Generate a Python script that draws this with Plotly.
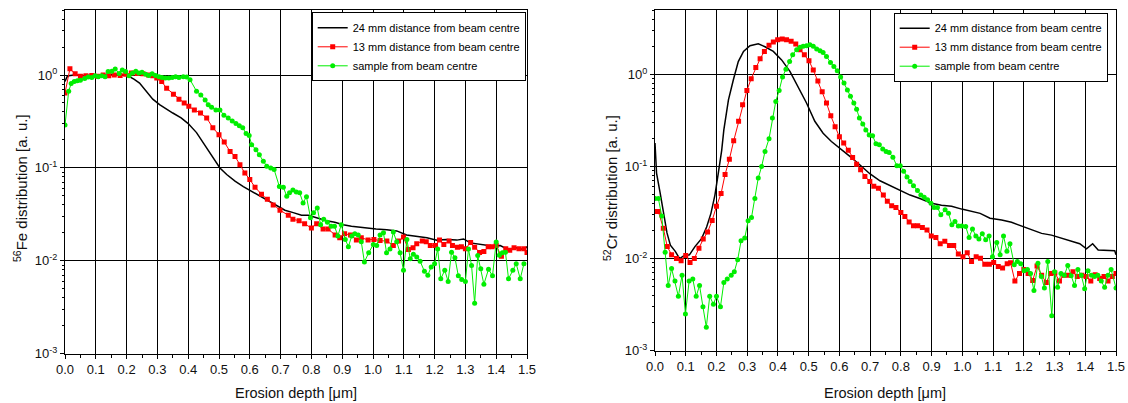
import plotly.graph_objects as go

# ---------------- data ----------------
# Left panel: 56Fe distribution vs erosion depth [um]
fe_24mm = [(0.0, 0.85), (0.006, 0.95), (0.012, 0.98), (0.03, 1.0), (0.06, 0.99), (0.1, 1.0),
           (0.14, 1.01), (0.17, 1.02), (0.2, 1.0), (0.225, 0.9), (0.242, 0.82), (0.263, 0.67),
           (0.285, 0.55), (0.307, 0.48), (0.328, 0.43), (0.35, 0.39), (0.377, 0.345), (0.4, 0.30),
           (0.427, 0.24), (0.449, 0.186), (0.476, 0.139), (0.503, 0.1), (0.525, 0.085),
           (0.552, 0.072), (0.579, 0.063), (0.606, 0.056), (0.633, 0.049), (0.66, 0.044),
           (0.687, 0.039), (0.714, 0.035), (0.741, 0.033), (0.768, 0.031), (0.79, 0.031),
           (0.817, 0.029), (0.849, 0.027), (0.876, 0.026), (0.903, 0.0245), (0.93, 0.0236),
           (0.957, 0.023), (0.979, 0.0226), (1.01, 0.022), (1.045, 0.0216), (1.077, 0.021),
           (1.109, 0.019), (1.142, 0.0185), (1.175, 0.0177), (1.207, 0.0167), (1.24, 0.017),
           (1.272, 0.0167), (1.294, 0.0172), (1.316, 0.0156), (1.348, 0.015), (1.38, 0.0145),
           (1.413, 0.0146), (1.44, 0.0132), (1.467, 0.0138), (1.489, 0.0132), (1.5, 0.0142)]

fe_13mm = [(0.0, 0.64), (0.016, 1.17), (0.033, 1.03), (0.05, 0.97), (0.068, 0.98), (0.087, 0.99),
           (0.105, 0.97), (0.124, 1.0), (0.142, 0.98), (0.16, 1.0), (0.179, 0.99), (0.197, 1.02),
           (0.216, 1.05), (0.234, 1.04), (0.253, 1.03), (0.271, 1.0), (0.285, 0.98), (0.298, 0.93),
           (0.314, 0.85), (0.33, 0.72), (0.352, 0.62), (0.37, 0.55), (0.387, 0.50), (0.402, 0.46),
           (0.42, 0.42), (0.44, 0.39), (0.46, 0.345), (0.48, 0.27), (0.5, 0.228), (0.517, 0.19),
           (0.536, 0.15), (0.552, 0.133), (0.568, 0.108), (0.584, 0.088), (0.6, 0.075),
           (0.617, 0.062), (0.638, 0.052), (0.657, 0.046), (0.676, 0.040), (0.698, 0.035),
           (0.725, 0.031), (0.74, 0.028), (0.76, 0.027), (0.778, 0.025), (0.8, 0.0226),
           (0.817, 0.025), (0.838, 0.022), (0.854, 0.022), (0.877, 0.019), (0.892, 0.0177),
           (0.908, 0.0195), (0.927, 0.019), (0.946, 0.0168), (0.962, 0.0177), (0.984, 0.0168),
           (1.003, 0.017), (1.023, 0.0165), (1.045, 0.0163), (1.066, 0.0146), (1.083, 0.0163),
           (1.099, 0.018), (1.115, 0.0132), (1.13, 0.0138), (1.142, 0.0153), (1.16, 0.0163),
           (1.173, 0.016), (1.186, 0.0146), (1.203, 0.0146), (1.216, 0.0168), (1.23, 0.015),
           (1.247, 0.0163), (1.258, 0.0146), (1.274, 0.014), (1.287, 0.0142), (1.3, 0.0135),
           (1.317, 0.0157), (1.33, 0.014), (1.346, 0.0123), (1.36, 0.0126), (1.374, 0.0142),
           (1.387, 0.0142), (1.4, 0.0146), (1.417, 0.0112), (1.431, 0.0135), (1.444, 0.013),
           (1.458, 0.0138), (1.474, 0.0135), (1.49, 0.0135), (1.5, 0.0123)]

fe_centre = [(0.0, 0.29), (0.012, 0.67), (0.02, 0.81), (0.03, 0.85), (0.04, 0.87), (0.05, 0.88),
             (0.064, 0.92), (0.075, 0.95), (0.087, 0.94), (0.098, 0.98), (0.108, 0.96),
             (0.119, 0.98), (0.13, 0.96), (0.14, 1.09), (0.152, 1.10), (0.163, 1.16),
             (0.176, 1.04), (0.186, 1.13), (0.197, 1.09), (0.208, 0.98), (0.219, 1.05),
             (0.23, 1.10), (0.24, 1.05), (0.25, 1.07), (0.262, 1.02), (0.272, 0.99), (0.283, 1.03),
             (0.294, 0.99), (0.305, 0.96), (0.315, 0.94), (0.326, 0.93), (0.337, 0.93),
             (0.348, 0.94), (0.359, 0.96), (0.37, 0.94), (0.384, 0.96), (0.395, 0.95),
             (0.406, 0.89), (0.427, 0.67), (0.441, 0.61), (0.455, 0.54), (0.465, 0.48),
             (0.476, 0.45), (0.49, 0.42), (0.503, 0.42), (0.516, 0.37), (0.53, 0.345),
             (0.543, 0.32), (0.555, 0.30), (0.566, 0.285), (0.577, 0.27), (0.588, 0.234),
             (0.598, 0.223), (0.606, 0.178), (0.62, 0.157), (0.631, 0.139), (0.644, 0.118),
             (0.655, 0.104), (0.668, 0.1), (0.679, 0.096), (0.696, 0.063), (0.709, 0.062),
             (0.72, 0.0495), (0.729, 0.054), (0.74, 0.058), (0.751, 0.055), (0.762, 0.054),
             (0.773, 0.042), (0.784, 0.049), (0.797, 0.029), (0.807, 0.033), (0.819, 0.037),
             (0.83, 0.0245), (0.84, 0.028), (0.852, 0.026), (0.864, 0.0236), (0.875, 0.0236),
             (0.886, 0.0185), (0.897, 0.0245), (0.91, 0.017), (0.92, 0.0142), (0.931, 0.0185),
             (0.941, 0.0195), (0.952, 0.019), (0.962, 0.016), (0.972, 0.0097), (0.986, 0.0122),
             (1.001, 0.015), (1.012, 0.0146), (1.023, 0.019), (1.034, 0.020), (1.044, 0.0122),
             (1.055, 0.0134), (1.066, 0.0204), (1.077, 0.016), (1.088, 0.0122), (1.099, 0.0079),
             (1.11, 0.017), (1.121, 0.0105), (1.131, 0.0118), (1.142, 0.011), (1.153, 0.0099),
             (1.167, 0.0077), (1.178, 0.0070), (1.189, 0.0086), (1.2, 0.0093), (1.21, 0.0134),
             (1.22, 0.0064), (1.233, 0.0079), (1.244, 0.006), (1.255, 0.0124), (1.266, 0.0108),
             (1.277, 0.0069), (1.288, 0.0063), (1.3, 0.006), (1.31, 0.0134), (1.32, 0.0089),
             (1.33, 0.0035), (1.34, 0.0114), (1.35, 0.0082), (1.36, 0.0056), (1.375, 0.0081),
             (1.388, 0.0069), (1.4, 0.0159), (1.41, 0.0115), (1.42, 0.0122), (1.43, 0.0124),
             (1.44, 0.0064), (1.454, 0.0079), (1.465, 0.0093), (1.478, 0.0064), (1.49, 0.0093)]

# Right panel: 52Cr distribution vs erosion depth [um]
cr_24mm = [(0.0, 0.18), (0.005, 0.085), (0.017, 0.051), (0.028, 0.031), (0.039, 0.019),
           (0.05, 0.014), (0.066, 0.012), (0.08, 0.01), (0.093, 0.0107), (0.112, 0.011),
           (0.13, 0.0135), (0.152, 0.0166), (0.168, 0.022), (0.182, 0.031), (0.195, 0.049),
           (0.206, 0.085), (0.217, 0.15), (0.224, 0.25), (0.232, 0.38), (0.239, 0.53),
           (0.255, 0.876), (0.271, 1.38), (0.288, 1.78), (0.309, 2.05), (0.336, 2.15),
           (0.358, 2.0), (0.385, 1.78), (0.412, 1.44), (0.439, 1.08), (0.466, 0.74),
           (0.493, 0.49), (0.52, 0.31), (0.547, 0.23), (0.574, 0.187), (0.602, 0.158),
           (0.635, 0.128), (0.667, 0.104), (0.7, 0.083), (0.732, 0.07), (0.765, 0.062),
           (0.797, 0.056), (0.83, 0.049), (0.862, 0.045), (0.9, 0.040), (0.932, 0.038),
           (0.965, 0.037), (0.998, 0.0345), (1.025, 0.033), (1.058, 0.031), (1.09, 0.0275),
           (1.128, 0.0263), (1.16, 0.0248), (1.198, 0.0223), (1.23, 0.0204), (1.258, 0.0188),
           (1.29, 0.018), (1.323, 0.0166), (1.355, 0.0153), (1.382, 0.0145), (1.404, 0.0128),
           (1.424, 0.0145), (1.442, 0.0124), (1.469, 0.0122), (1.496, 0.0122), (1.5, 0.011)]

cr_13mm = [(0.0, 0.0325), (0.011, 0.0325), (0.027, 0.0214), (0.04, 0.0135), (0.054, 0.011),
           (0.07, 0.01), (0.085, 0.0095), (0.1, 0.0108), (0.114, 0.0091), (0.128, 0.01),
           (0.143, 0.013), (0.157, 0.0163), (0.171, 0.0194), (0.186, 0.026), (0.2, 0.037),
           (0.215, 0.051), (0.228, 0.082), (0.242, 0.12), (0.256, 0.19), (0.272, 0.31),
           (0.285, 0.47), (0.299, 0.67), (0.313, 0.9), (0.328, 1.19), (0.342, 1.48),
           (0.356, 1.78), (0.371, 2.07), (0.385, 2.25), (0.399, 2.38), (0.414, 2.42),
           (0.428, 2.38), (0.443, 2.29), (0.458, 2.14), (0.472, 1.86), (0.486, 1.64),
           (0.501, 1.41), (0.515, 1.12), (0.53, 0.85), (0.544, 0.65), (0.558, 0.49),
           (0.572, 0.355), (0.586, 0.27), (0.6, 0.21), (0.614, 0.18), (0.629, 0.15),
           (0.643, 0.125), (0.656, 0.106), (0.669, 0.092), (0.683, 0.078), (0.699, 0.069),
           (0.712, 0.061), (0.727, 0.058), (0.743, 0.049), (0.756, 0.042), (0.77, 0.0375),
           (0.784, 0.036), (0.8, 0.0316), (0.813, 0.0287), (0.827, 0.025), (0.841, 0.0227),
           (0.855, 0.0227), (0.87, 0.0218), (0.885, 0.0205), (0.899, 0.0176), (0.914, 0.017),
           (0.928, 0.0145), (0.943, 0.0154), (0.958, 0.0139), (0.972, 0.0139), (0.987, 0.0112),
           (1.002, 0.0105), (1.016, 0.0116), (1.03, 0.0093), (1.045, 0.0105), (1.059, 0.0101),
           (1.073, 0.0087), (1.088, 0.0087), (1.102, 0.0091), (1.117, 0.0082), (1.131, 0.0079),
           (1.146, 0.0088), (1.157, 0.009), (1.171, 0.0057), (1.186, 0.0069), (1.2, 0.0076),
           (1.214, 0.0069), (1.229, 0.0058), (1.243, 0.0083), (1.258, 0.0066), (1.273, 0.0055),
           (1.287, 0.0069), (1.301, 0.007), (1.316, 0.0057), (1.33, 0.0066), (1.345, 0.0066),
           (1.36, 0.0072), (1.374, 0.0064), (1.389, 0.0066), (1.403, 0.0064), (1.418, 0.0057),
           (1.432, 0.0067), (1.447, 0.0061), (1.461, 0.0064), (1.474, 0.0057), (1.488, 0.0064),
           (1.5, 0.0069)]

cr_centre = [(0.0, 0.045), (0.011, 0.045), (0.022, 0.029), (0.033, 0.0117), (0.043, 0.0051),
             (0.054, 0.0078), (0.065, 0.0057), (0.076, 0.0039), (0.088, 0.0066), (0.099, 0.0025),
             (0.111, 0.0057), (0.123, 0.006), (0.134, 0.0039), (0.145, 0.0051), (0.156, 0.0030),
             (0.167, 0.0018), (0.178, 0.0039), (0.19, 0.0032), (0.2, 0.0039), (0.213, 0.003),
             (0.224, 0.0055), (0.235, 0.006), (0.248, 0.0066), (0.258, 0.0072), (0.269, 0.0097),
             (0.28, 0.0156), (0.292, 0.0167), (0.303, 0.0257), (0.314, 0.028), (0.325, 0.045),
             (0.336, 0.075), (0.347, 0.1), (0.358, 0.146), (0.371, 0.2), (0.382, 0.336),
             (0.393, 0.51), (0.404, 0.67), (0.415, 0.94), (0.426, 1.14), (0.438, 1.38),
             (0.448, 1.64), (0.461, 1.86), (0.472, 1.97), (0.482, 2.02), (0.493, 2.05),
             (0.504, 2.1), (0.515, 2.02), (0.526, 1.89), (0.537, 1.81), (0.547, 1.73),
             (0.558, 1.57), (0.571, 1.35), (0.582, 1.22), (0.593, 1.10), (0.604, 0.94),
             (0.615, 0.81), (0.626, 0.68), (0.636, 0.58), (0.647, 0.49), (0.656, 0.42),
             (0.665, 0.336), (0.676, 0.29), (0.686, 0.25), (0.697, 0.22), (0.708, 0.216),
             (0.719, 0.177), (0.73, 0.172), (0.741, 0.155), (0.752, 0.146), (0.762, 0.142),
             (0.774, 0.126), (0.787, 0.102), (0.798, 0.102), (0.809, 0.089), (0.82, 0.077),
             (0.83, 0.069), (0.841, 0.062), (0.854, 0.055), (0.865, 0.049), (0.876, 0.0465),
             (0.887, 0.0435), (0.898, 0.040), (0.908, 0.036), (0.919, 0.036), (0.93, 0.030),
             (0.944, 0.034), (0.955, 0.031), (0.966, 0.0233), (0.976, 0.0253), (0.987, 0.0226),
             (0.998, 0.0226), (1.011, 0.0223), (1.022, 0.017), (1.033, 0.021), (1.044, 0.0176),
             (1.054, 0.0163), (1.065, 0.0186), (1.076, 0.016), (1.087, 0.0176), (1.098, 0.0105),
             (1.112, 0.015), (1.123, 0.011), (1.134, 0.0176), (1.145, 0.012), (1.155, 0.0145),
             (1.169, 0.0086), (1.179, 0.0093), (1.19, 0.0088), (1.201, 0.0074), (1.212, 0.0076),
             (1.222, 0.0069), (1.233, 0.0045), (1.246, 0.0089), (1.257, 0.0064), (1.267, 0.0048),
             (1.278, 0.0093), (1.291, 0.0024), (1.3, 0.0072), (1.31, 0.0049), (1.321, 0.0069),
             (1.332, 0.0066), (1.343, 0.0084), (1.354, 0.0065), (1.365, 0.0051), (1.376, 0.0076),
             (1.387, 0.0066), (1.398, 0.0047), (1.409, 0.0074), (1.42, 0.0066), (1.43, 0.0064),
             (1.441, 0.0066), (1.452, 0.0057), (1.463, 0.0049), (1.474, 0.0066), (1.484, 0.0076),
             (1.5, 0.0048)]

series_names = ["24 mm distance from beam centre",
                "13 mm distance from beam centre",
                "sample from beam centre"]
x_tick_vals = [0.0, 0.1, 0.2, 0.3, 0.4, 0.5, 0.6, 0.7, 0.8, 0.9, 1.0, 1.1, 1.2, 1.3, 1.4, 1.5]
x_tick_text = ["0.0", "0.1", "0.2", "0.3", "0.4", "0.5", "0.6", "0.7",
               "0.8", "0.9", "1.0", "1.1", "1.2", "1.3", "1.4", "1.5"]
y_tick_vals = [0.001, 0.01, 0.1, 1]
y_tick_text = ["10<sup>-3</sup>", "10<sup>-2</sup>", "10<sup>-1</sup>", "10<sup>0</sup>"]
x_title = "Erosion depth [\u03bcm]"
y_titles = ["<sup>56</sup>Fe distribution [a. u.]", "<sup>52</sup>Cr distribution [a. u.]"]

# ---------------- figure ----------------
FONT = "Arial, Liberation Sans, sans-serif"
W, H = 1128, 403
# plot-area boxes in pixels (left, right, top, bottom)
BOX_L = (65, 527, 10, 353.7)
BOX_R = (655, 1116, 10, 350.7)


def xy(pairs):
    return [p[0] for p in pairs], [p[1] for p in pairs]


fig = go.Figure()
panels = [(fe_24mm, fe_13mm, fe_centre, "x", "y", "legend"),
          (cr_24mm, cr_13mm, cr_centre, "x2", "y2", "legend2")]
for black, red, green, xa, ya, lg in panels:
    x, y = xy(black)
    fig.add_trace(go.Scatter(x=x, y=y, mode="lines", name=series_names[0],
                             line=dict(color="black", width=1.5),
                             xaxis=xa, yaxis=ya, legend=lg))
    x, y = xy(red)
    fig.add_trace(go.Scatter(x=x, y=y, mode="lines+markers", name=series_names[1],
                             line=dict(color="#ff0000", width=1),
                             marker=dict(symbol="square", size=5, color="#ff0000"),
                             xaxis=xa, yaxis=ya, legend=lg))
    x, y = xy(green)
    fig.add_trace(go.Scatter(x=x, y=y, mode="lines+markers", name=series_names[2],
                             line=dict(color="#00ee00", width=1),
                             marker=dict(symbol="circle", size=5, color="#00ee00"),
                             xaxis=xa, yaxis=ya, legend=lg))

minor_y = [k * 10.0 ** e for e in range(-3, 1) for k in range(2, 10)] + [2, 3, 4, 5]

xcommon = dict(range=[0, 1.5], tickmode="array", tickvals=x_tick_vals, ticktext=x_tick_text,
               showgrid=True, gridcolor="black", gridwidth=1, zeroline=False,
               showline=True, linecolor="black", linewidth=1, mirror=True,
               ticks="outside", ticklen=4, tickcolor="black", automargin=False,
               minor=dict(tickmode="array", tickvals=[0.05 + 0.1 * i for i in range(15)],
                          ticks="outside", ticklen=3, tickcolor="black", showgrid=False),
               tickfont=dict(family=FONT, size=13, color="#111111"))
ycommon = dict(type="log", range=[-3, 0.7], tickmode="array", tickvals=y_tick_vals,
               ticktext=y_tick_text, showgrid=True, gridcolor="black", gridwidth=1,
               zeroline=False, showline=True, linecolor="black", linewidth=1, mirror=True,
               ticks="outside", ticklen=4, tickcolor="black", automargin=False,
               minor=dict(tickmode="array", tickvals=minor_y, ticks="outside", ticklen=2,
                          tickcolor="black", showgrid=False),
               tickfont=dict(family=FONT, size=13, color="#111111"))


def dom_x(b):
    return [b[0] / W, b[1] / W]


def dom_y(b):
    return [1 - b[3] / H, 1 - b[2] / H]


fig.update_layout(
    width=W, height=H, margin=dict(l=0, r=0, t=0, b=0),
    paper_bgcolor="white", plot_bgcolor="white",
    font=dict(family=FONT, size=12, color="black"),
    xaxis=dict(xcommon, domain=dom_x(BOX_L), anchor="y"),
    yaxis=dict(ycommon, domain=dom_y(BOX_L), anchor="x"),
    xaxis2=dict(xcommon, domain=dom_x(BOX_R), anchor="y2"),
    yaxis2=dict(ycommon, domain=dom_y(BOX_R), anchor="x2"),
    legend=dict(x=525.7 / W, y=1 - 12.3 / H, xanchor="right", yanchor="top",
                bgcolor="white", bordercolor="black", borderwidth=1, itemwidth=30,
                font=dict(family=FONT, size=11, color="black"), tracegroupgap=0),
    legend2=dict(x=1107.7 / W, y=1 - 12.7 / H, xanchor="right", yanchor="top",
                 bgcolor="white", bordercolor="black", borderwidth=1, itemwidth=30,
                 font=dict(family=FONT, size=11, color="black"), tracegroupgap=0),
    showlegend=True,
)

# axis titles as annotations (exact placement)
title_font = dict(family=FONT, size=14.5, color="#111111")
for box, ytitle in ((BOX_L, y_titles[0]), (BOX_R, y_titles[1])):
    cx = (box[0] + box[1]) / 2 / W
    fig.add_annotation(text=x_title, xref="paper", yref="paper", x=cx, y=1 - 393 / H,
                       xanchor="center", yanchor="middle", showarrow=False, font=title_font)
    fig.add_annotation(text=ytitle, xref="paper", yref="paper", x=(box[0] - 44) / W,
                       y=1 - 188 / H, xanchor="center", yanchor="middle", textangle=-90,
                       showarrow=False, font=dict(family=FONT, size=15, color="#111111"))

fig.write_html("out.html")
